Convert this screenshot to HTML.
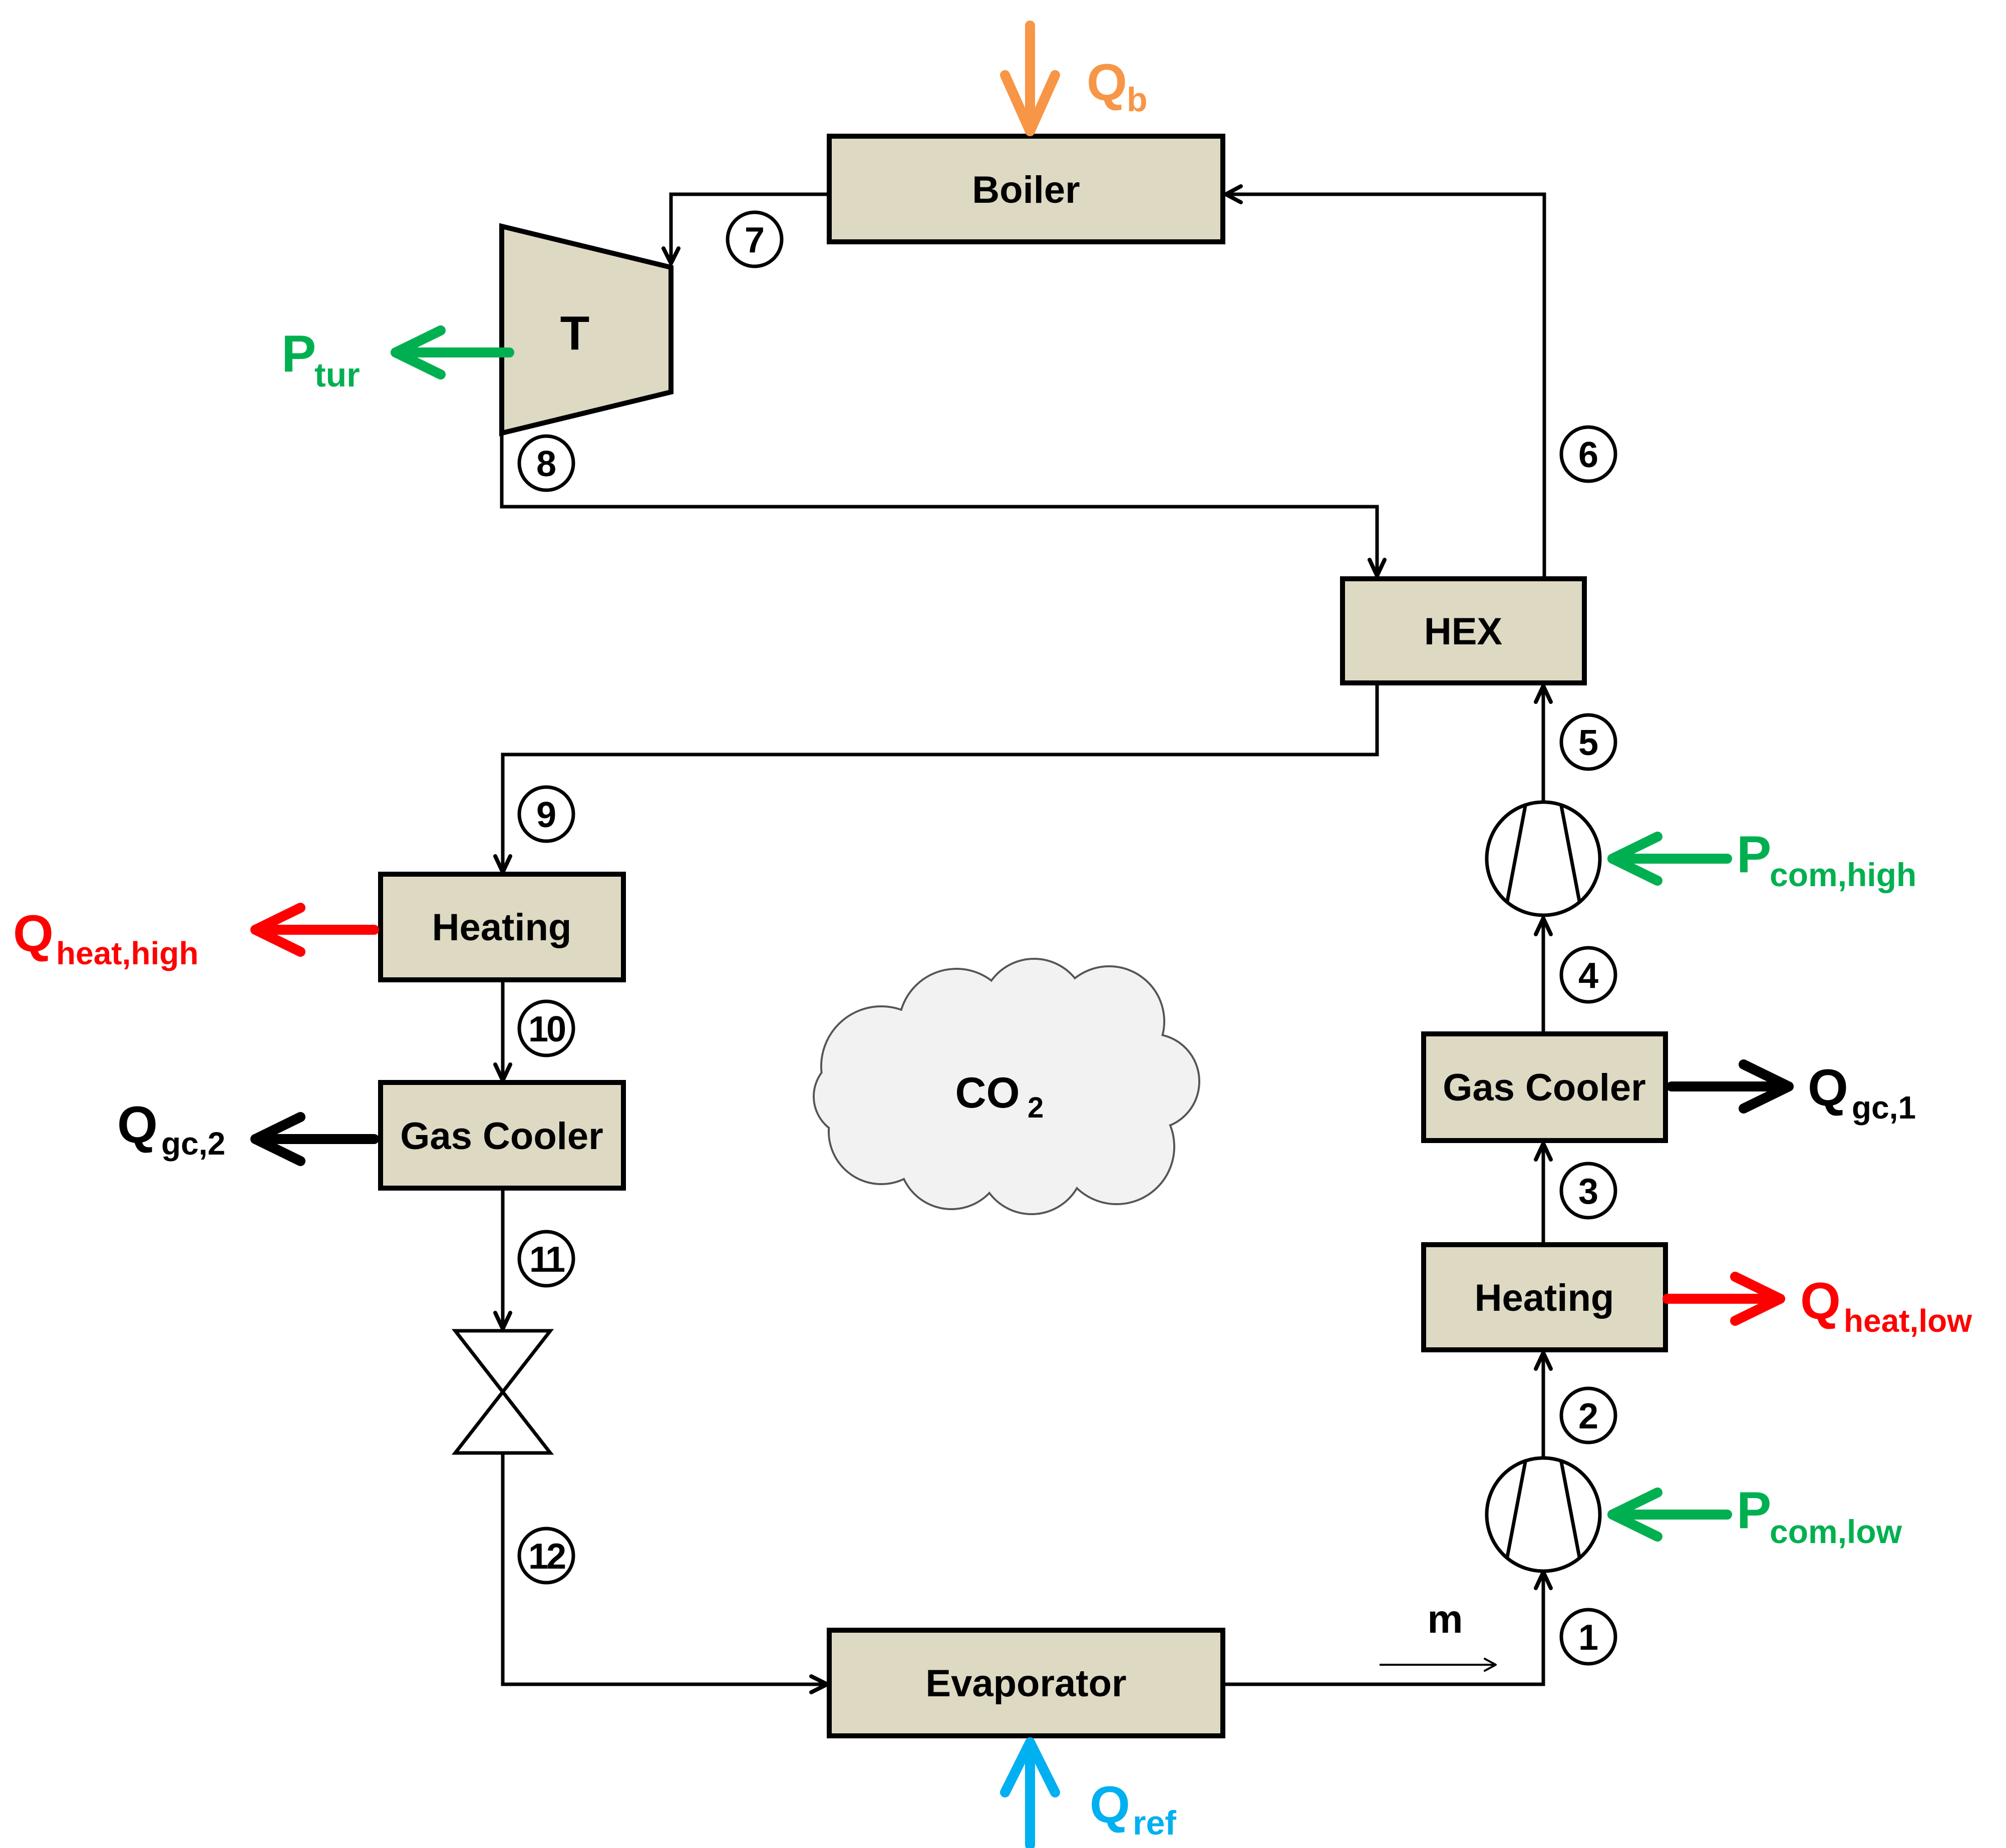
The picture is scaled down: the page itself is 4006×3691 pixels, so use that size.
<!DOCTYPE html>
<html><head><meta charset="utf-8"><style>html,body{margin:0;padding:0;background:#fff}svg{display:block}</style></head>
<body>
<svg xmlns="http://www.w3.org/2000/svg" width="4006" height="3691" viewBox="0 0 4006 3691" font-family="Liberation Sans, sans-serif" font-weight="bold">
<rect width="4006" height="3691" fill="#fff"/>
<g fill="none" stroke="#000" stroke-width="7" stroke-linejoin="miter">
<polyline points="1656,388 1340,388 1340,526"/>
<polyline points="1002,865 1002,1012 2750,1012 2750,1150"/>
<polyline points="3084,1156 3084,388 2448,388"/>
<polyline points="2750,1364 2750,1507 1004,1507 1004,1740"/>
<polyline points="1004,1957 1004,2156"/>
<polyline points="1004,2373 1004,2652"/>
<polyline points="1004,2902 1004,3364 1650,3364"/>
<polyline points="2442,3364 3082,3364 3082,3144"/>
<polyline points="3082,2912 3082,2702"/>
<polyline points="3082,2486 3082,2284"/>
<polyline points="3082,2065 3082,1834"/>
<polyline points="3082,1602 3082,1370"/>
<polyline points="2755,3325 2985,3325" stroke-width="4"/>
</g>
<g fill="none" stroke="#000" stroke-width="8" stroke-linecap="round" stroke-linejoin="round">
<polyline points="1325,496 1340,526 1355,496"/>
<polyline points="2735,1118 2750,1150 2765,1118"/>
<polyline points="2478,372 2448,388 2478,404"/>
<polyline points="989,1710 1004,1742 1019,1710"/>
<polyline points="989,2126 1004,2158 1019,2126"/>
<polyline points="989,2622 1004,2654 1019,2622"/>
<polyline points="1620,3348 1652,3364 1620,3380"/>
<polyline points="3067,3172 3082,3140 3097,3172"/>
<polyline points="3067,2734 3082,2702 3097,2734"/>
<polyline points="3067,2316 3082,2284 3097,2316"/>
<polyline points="3067,1866 3082,1834 3097,1866"/>
<polyline points="3067,1402 3082,1370 3097,1402"/>
<polyline points="2965,3313 2987,3325 2965,3337" stroke-width="4"/>
</g>
<g fill="#ddd9c3" stroke="#000" stroke-width="10">
<rect x="1656" y="272" width="786" height="211"/>
<polygon points="1002,452 1340,534 1340,783 1002,865"/>
<rect x="2681" y="1156" width="483" height="208"/>
<rect x="760" y="1746" width="485" height="211"/>
<rect x="760" y="2162" width="485" height="211"/>
<rect x="1656" y="3256" width="786" height="211"/>
<rect x="2843" y="2486" width="483" height="210"/>
<rect x="2843" y="2065" width="483" height="213"/>
</g>
<polygon points="909,2658 1099,2658 909,2902 1099,2902" fill="#fff" stroke="#000" stroke-width="7" stroke-linejoin="miter"/>
<g fill="#fff" stroke="#000" stroke-width="7">
<circle cx="3082" cy="1715" r="113"/>
<line x1="3046" y1="1610" x2="3010" y2="1800"/>
<line x1="3118" y1="1610" x2="3154" y2="1800"/>
<circle cx="3082" cy="3025" r="113"/>
<line x1="3046" y1="2920" x2="3010" y2="3110"/>
<line x1="3118" y1="2920" x2="3154" y2="3110"/>
</g>
<g stroke="#555" stroke-width="4" fill="#f2f2f2">
<circle cx="1760" cy="2130" r="120"/><circle cx="1910" cy="2050" r="115"/><circle cx="2065" cy="2020" r="105"/><circle cx="2215" cy="2040" r="110"/><circle cx="2300" cy="2160" r="95"/><circle cx="2230" cy="2290" r="115"/><circle cx="2060" cy="2320" r="105"/><circle cx="1900" cy="2310" r="105"/><circle cx="1760" cy="2260" r="105"/><circle cx="1705" cy="2190" r="80"/>
</g>
<g fill="#f2f2f2">
<circle cx="1760" cy="2130" r="118"/><circle cx="1910" cy="2050" r="113"/><circle cx="2065" cy="2020" r="103"/><circle cx="2215" cy="2040" r="108"/><circle cx="2300" cy="2160" r="93"/><circle cx="2230" cy="2290" r="113"/><circle cx="2060" cy="2320" r="103"/><circle cx="1900" cy="2310" r="103"/><circle cx="1760" cy="2260" r="103"/><circle cx="1705" cy="2190" r="78"/>
<ellipse cx="2010" cy="2180" rx="300" ry="170"/>
</g>
<g fill="none" stroke-width="20" stroke-linecap="round" stroke-linejoin="round">
<g stroke="#f79646"><line x1="2057" y1="51" x2="2057" y2="262"/><polyline points="2007,150 2057,262 2107,150"/></g>
<g stroke="#00b050"><line x1="1017" y1="704" x2="790" y2="704"/><polyline points="880,660 790,704 880,748"/>
<line x1="3449" y1="1715" x2="3220" y2="1715"/><polyline points="3310,1671 3220,1715 3310,1759"/>
<line x1="3449" y1="3025" x2="3220" y2="3025"/><polyline points="3310,2981 3220,3025 3310,3069"/></g>
<g stroke="#ff0000"><line x1="747" y1="1857" x2="510" y2="1857"/><polyline points="600,1813 510,1857 600,1901"/>
<line x1="3330" y1="2594" x2="3555" y2="2594"/><polyline points="3465,2550 3555,2594 3465,2638"/></g>
<g stroke="#000"><line x1="747" y1="2275" x2="510" y2="2275"/><polyline points="600,2231 510,2275 600,2319"/>
<line x1="3338" y1="2170" x2="3572" y2="2170"/><polyline points="3482,2126 3572,2170 3482,2214"/></g>
<g stroke="#00b0f0"><line x1="2057" y1="3685" x2="2057" y2="3480"/><polyline points="2007,3580 2057,3480 2107,3580"/></g>
</g>
<g fill="#fff" stroke="#000" stroke-width="7">
<circle cx="1507" cy="478" r="54"/><circle cx="1091" cy="925" r="54"/><circle cx="3172" cy="907" r="54"/><circle cx="3172" cy="1482" r="54"/>
<circle cx="1091" cy="1626" r="54"/><circle cx="3172" cy="1947" r="54"/><circle cx="1091" cy="2054" r="54"/><circle cx="3172" cy="2378" r="54"/>
<circle cx="1091" cy="2514" r="54"/><circle cx="3172" cy="2827" r="54"/><circle cx="1091" cy="3107" r="54"/><circle cx="3172" cy="3269" r="54"/>
</g>
<g font-size="72" text-anchor="middle" fill="#000">
<text x="1507" y="504">7</text><text x="1091" y="951">8</text><text x="3172" y="933">6</text><text x="3172" y="1508">5</text>
<text x="1091" y="1652">9</text><text x="3172" y="1973">4</text><text x="1091" y="2080" letter-spacing="-4">10</text><text x="3172" y="2404">3</text>
<text x="1091" y="2540" letter-spacing="-4">11</text><text x="3172" y="2853">2</text><text x="1091" y="3133" letter-spacing="-4">12</text><text x="3172" y="3295">1</text>
</g>
<g font-size="76" text-anchor="middle" fill="#000">
<text x="2049" y="405">Boiler</text>
<text x="1148" y="698" font-size="96">T</text>
<text x="2922" y="1287">HEX</text>
<text x="1002" y="1878">Heating</text>
<text x="1002" y="2295">Gas Cooler</text>
<text x="2049" y="3388">Evaporator</text>
<text x="3084" y="2618">Heating</text>
<text x="3084" y="2198">Gas Cooler</text>
<text x="1972" y="2212" font-size="86">CO</text><text x="2052" y="2232" font-size="58" text-anchor="start">2</text>
<text x="2886" y="3261" font-size="80">m</text>
</g>
<g fill="#f79646"><text x="2170" y="200" font-size="104">Q</text><text x="2250" y="222" font-size="68">b</text></g>
<g fill="#00b050"><text x="562" y="742" font-size="104">P</text><text x="628" y="772" font-size="68">tur</text>
<text x="3468" y="1742" font-size="104">P</text><text x="3534" y="1770" font-size="66">com,high</text>
<text x="3468" y="3052" font-size="104">P</text><text x="3534" y="3082" font-size="66">com,low</text></g>
<g fill="#ff0000"><text x="26" y="1900" font-size="104">Q</text><text x="112" y="1926" font-size="64">heat,high</text>
<text x="3595" y="2634" font-size="104">Q</text><text x="3682" y="2660" font-size="64">heat,low</text></g>
<g fill="#000"><text x="234" y="2282" font-size="104">Q</text><text x="322" y="2306" font-size="64">gc,2</text>
<text x="3610" y="2208" font-size="104">Q</text><text x="3698" y="2234" font-size="64">gc,1</text></g>
<g fill="#00b0f0"><text x="2176" y="3640" font-size="104">Q</text><text x="2262" y="3664" font-size="68">ref</text></g>
</svg>
</body></html>
